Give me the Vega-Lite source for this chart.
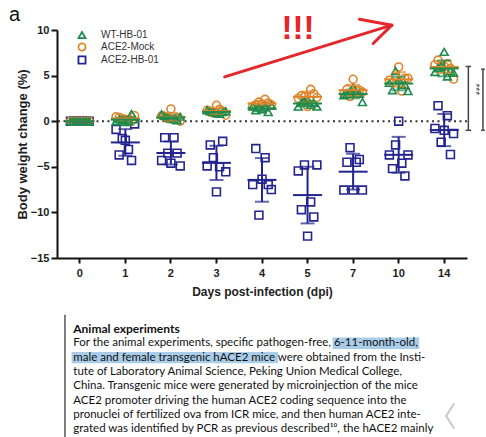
{
"$schema":"https://vega.github.io/schema/vega-lite/v6.json",
"width":410,"height":228,
"autosize":{"type":"none"},
"padding":{"left":57,"top":30,"right":19,"bottom":179},
"background":"white",
"config":{"view":{"stroke":null},"font":"Liberation Sans"},
"datasets":{
"mice":[
{"day":0,"group":"ACE2-HB-01","mouse":1,"value":0},{"day":0,"group":"ACE2-HB-01","mouse":2,"value":0},{"day":0,"group":"ACE2-HB-01","mouse":3,"value":0},{"day":0,"group":"ACE2-HB-01","mouse":4,"value":0},{"day":0,"group":"ACE2-HB-01","mouse":5,"value":0},{"day":0,"group":"ACE2-HB-01","mouse":6,"value":0},{"day":0,"group":"ACE2-HB-01","mouse":7,"value":0},
{"day":1,"group":"ACE2-HB-01","mouse":1,"value":-0.9},{"day":1,"group":"ACE2-HB-01","mouse":2,"value":-3.7},{"day":1,"group":"ACE2-HB-01","mouse":3,"value":-1.9},{"day":1,"group":"ACE2-HB-01","mouse":4,"value":-2.1},{"day":1,"group":"ACE2-HB-01","mouse":5,"value":-3.1},{"day":1,"group":"ACE2-HB-01","mouse":6,"value":-4.3},{"day":1,"group":"ACE2-HB-01","mouse":7,"value":-0.3},
{"day":2,"group":"ACE2-HB-01","mouse":1,"value":-4.3},{"day":2,"group":"ACE2-HB-01","mouse":2,"value":-1.8},{"day":2,"group":"ACE2-HB-01","mouse":3,"value":-3.5},{"day":2,"group":"ACE2-HB-01","mouse":4,"value":-4.6},{"day":2,"group":"ACE2-HB-01","mouse":5,"value":-1.8},{"day":2,"group":"ACE2-HB-01","mouse":6,"value":-3.5},{"day":2,"group":"ACE2-HB-01","mouse":7,"value":-4.9},
{"day":3,"group":"ACE2-HB-01","mouse":1,"value":-4.9},{"day":3,"group":"ACE2-HB-01","mouse":2,"value":-2.6},{"day":3,"group":"ACE2-HB-01","mouse":3,"value":-4.0},{"day":3,"group":"ACE2-HB-01","mouse":4,"value":-7.75},{"day":3,"group":"ACE2-HB-01","mouse":5,"value":-5.0},{"day":3,"group":"ACE2-HB-01","mouse":6,"value":-2.2},{"day":3,"group":"ACE2-HB-01","mouse":7,"value":-5.55},
{"day":4,"group":"ACE2-HB-01","mouse":1,"value":-6.95},{"day":4,"group":"ACE2-HB-01","mouse":2,"value":-3.0},{"day":4,"group":"ACE2-HB-01","mouse":3,"value":-10.3},{"day":4,"group":"ACE2-HB-01","mouse":4,"value":-6.36},{"day":4,"group":"ACE2-HB-01","mouse":5,"value":-4.0},{"day":4,"group":"ACE2-HB-01","mouse":6,"value":-6.95},{"day":4,"group":"ACE2-HB-01","mouse":7,"value":-7.5},
{"day":5,"group":"ACE2-HB-01","mouse":1,"value":-5.45},{"day":5,"group":"ACE2-HB-01","mouse":2,"value":-9.7},{"day":5,"group":"ACE2-HB-01","mouse":3,"value":-4.8},{"day":5,"group":"ACE2-HB-01","mouse":4,"value":-12.6},{"day":5,"group":"ACE2-HB-01","mouse":5,"value":-8.85},{"day":5,"group":"ACE2-HB-01","mouse":6,"value":-10.5},{"day":5,"group":"ACE2-HB-01","mouse":7,"value":-4.8},
{"day":7,"group":"ACE2-HB-01","mouse":1,"value":-7.55},{"day":7,"group":"ACE2-HB-01","mouse":2,"value":-4.5},{"day":7,"group":"ACE2-HB-01","mouse":3,"value":-2.9},{"day":7,"group":"ACE2-HB-01","mouse":4,"value":-7.55},{"day":7,"group":"ACE2-HB-01","mouse":5,"value":-4.5},{"day":7,"group":"ACE2-HB-01","mouse":6,"value":-4.2},{"day":7,"group":"ACE2-HB-01","mouse":7,"value":-7.55},
{"day":10,"group":"ACE2-HB-01","mouse":1,"value":-3.7},{"day":10,"group":"ACE2-HB-01","mouse":2,"value":-5.2},{"day":10,"group":"ACE2-HB-01","mouse":3,"value":-2.6},{"day":10,"group":"ACE2-HB-01","mouse":4,"value":0.0},{"day":10,"group":"ACE2-HB-01","mouse":5,"value":-4.6},{"day":10,"group":"ACE2-HB-01","mouse":6,"value":-6.0},{"day":10,"group":"ACE2-HB-01","mouse":7,"value":-3.7},
{"day":14,"group":"ACE2-HB-01","mouse":1,"value":-0.8},{"day":14,"group":"ACE2-HB-01","mouse":2,"value":1.7},{"day":14,"group":"ACE2-HB-01","mouse":3,"value":-2.3},{"day":14,"group":"ACE2-HB-01","mouse":4,"value":-1.0},{"day":14,"group":"ACE2-HB-01","mouse":5,"value":0.6},{"day":14,"group":"ACE2-HB-01","mouse":6,"value":-3.65},{"day":14,"group":"ACE2-HB-01","mouse":7,"value":-1.35},
{"day":0,"group":"ACE2-Mock","mouse":1,"value":0},{"day":0,"group":"ACE2-Mock","mouse":2,"value":0},{"day":0,"group":"ACE2-Mock","mouse":3,"value":0},{"day":0,"group":"ACE2-Mock","mouse":4,"value":0},{"day":0,"group":"ACE2-Mock","mouse":5,"value":0},{"day":0,"group":"ACE2-Mock","mouse":6,"value":0},{"day":0,"group":"ACE2-Mock","mouse":7,"value":0},
{"day":1,"group":"ACE2-Mock","mouse":1,"value":0.5},{"day":1,"group":"ACE2-Mock","mouse":2,"value":0.4},{"day":1,"group":"ACE2-Mock","mouse":3,"value":0.3},{"day":1,"group":"ACE2-Mock","mouse":4,"value":0.2},{"day":1,"group":"ACE2-Mock","mouse":5,"value":0.1},{"day":1,"group":"ACE2-Mock","mouse":6,"value":0.0},{"day":1,"group":"ACE2-Mock","mouse":7,"value":0.6},
{"day":2,"group":"ACE2-Mock","mouse":1,"value":0.6},{"day":2,"group":"ACE2-Mock","mouse":2,"value":0.5},{"day":2,"group":"ACE2-Mock","mouse":3,"value":0.3},{"day":2,"group":"ACE2-Mock","mouse":4,"value":1.35},{"day":2,"group":"ACE2-Mock","mouse":5,"value":0.2},{"day":2,"group":"ACE2-Mock","mouse":6,"value":0.4},{"day":2,"group":"ACE2-Mock","mouse":7,"value":0.0},
{"day":3,"group":"ACE2-Mock","mouse":1,"value":1.2},{"day":3,"group":"ACE2-Mock","mouse":2,"value":1.0},{"day":3,"group":"ACE2-Mock","mouse":3,"value":0.9},{"day":3,"group":"ACE2-Mock","mouse":4,"value":1.75},{"day":3,"group":"ACE2-Mock","mouse":5,"value":1.3},{"day":3,"group":"ACE2-Mock","mouse":6,"value":1.1},{"day":3,"group":"ACE2-Mock","mouse":7,"value":0.65},
{"day":4,"group":"ACE2-Mock","mouse":1,"value":1.6},{"day":4,"group":"ACE2-Mock","mouse":2,"value":1.8},{"day":4,"group":"ACE2-Mock","mouse":3,"value":2.1},{"day":4,"group":"ACE2-Mock","mouse":4,"value":1.9},{"day":4,"group":"ACE2-Mock","mouse":5,"value":2.4},{"day":4,"group":"ACE2-Mock","mouse":6,"value":2.0},{"day":4,"group":"ACE2-Mock","mouse":7,"value":1.8},
{"day":5,"group":"ACE2-Mock","mouse":1,"value":2.5},{"day":5,"group":"ACE2-Mock","mouse":2,"value":2.8},{"day":5,"group":"ACE2-Mock","mouse":3,"value":2.7},{"day":5,"group":"ACE2-Mock","mouse":4,"value":1.6},{"day":5,"group":"ACE2-Mock","mouse":5,"value":3.5},{"day":5,"group":"ACE2-Mock","mouse":6,"value":3.0},{"day":5,"group":"ACE2-Mock","mouse":7,"value":2.6},
{"day":7,"group":"ACE2-Mock","mouse":1,"value":3.0},{"day":7,"group":"ACE2-Mock","mouse":2,"value":3.5},{"day":7,"group":"ACE2-Mock","mouse":3,"value":2.7},{"day":7,"group":"ACE2-Mock","mouse":4,"value":4.6},{"day":7,"group":"ACE2-Mock","mouse":5,"value":3.4},{"day":7,"group":"ACE2-Mock","mouse":6,"value":3.4},{"day":7,"group":"ACE2-Mock","mouse":7,"value":3.2},
{"day":10,"group":"ACE2-Mock","mouse":1,"value":4.5},{"day":10,"group":"ACE2-Mock","mouse":2,"value":4.2},{"day":10,"group":"ACE2-Mock","mouse":3,"value":4.8},{"day":10,"group":"ACE2-Mock","mouse":4,"value":5.95},{"day":10,"group":"ACE2-Mock","mouse":5,"value":3.3},{"day":10,"group":"ACE2-Mock","mouse":6,"value":4.7},{"day":10,"group":"ACE2-Mock","mouse":7,"value":4.7},
{"day":14,"group":"ACE2-Mock","mouse":1,"value":6.2},{"day":14,"group":"ACE2-Mock","mouse":2,"value":6.7},{"day":14,"group":"ACE2-Mock","mouse":3,"value":6.0},{"day":14,"group":"ACE2-Mock","mouse":4,"value":6.0},{"day":14,"group":"ACE2-Mock","mouse":5,"value":6.3},{"day":14,"group":"ACE2-Mock","mouse":6,"value":5.8},{"day":14,"group":"ACE2-Mock","mouse":7,"value":4.6},
{"day":0,"group":"WT-HB-01","mouse":1,"value":0},{"day":0,"group":"WT-HB-01","mouse":2,"value":0},{"day":0,"group":"WT-HB-01","mouse":3,"value":0},{"day":0,"group":"WT-HB-01","mouse":4,"value":0},{"day":0,"group":"WT-HB-01","mouse":5,"value":0},{"day":0,"group":"WT-HB-01","mouse":6,"value":0},{"day":0,"group":"WT-HB-01","mouse":7,"value":0},
{"day":1,"group":"WT-HB-01","mouse":1,"value":0.0},{"day":1,"group":"WT-HB-01","mouse":2,"value":0.2},{"day":1,"group":"WT-HB-01","mouse":3,"value":0.1},{"day":1,"group":"WT-HB-01","mouse":4,"value":-0.1},{"day":1,"group":"WT-HB-01","mouse":5,"value":0.0},{"day":1,"group":"WT-HB-01","mouse":6,"value":0.8},{"day":1,"group":"WT-HB-01","mouse":7,"value":0.2},
{"day":2,"group":"WT-HB-01","mouse":1,"value":0.75},{"day":2,"group":"WT-HB-01","mouse":2,"value":0.6},{"day":2,"group":"WT-HB-01","mouse":3,"value":0.4},{"day":2,"group":"WT-HB-01","mouse":4,"value":0.3},{"day":2,"group":"WT-HB-01","mouse":5,"value":0.2},{"day":2,"group":"WT-HB-01","mouse":6,"value":0.1},{"day":2,"group":"WT-HB-01","mouse":7,"value":0.5},
{"day":3,"group":"WT-HB-01","mouse":1,"value":1.2},{"day":3,"group":"WT-HB-01","mouse":2,"value":1.1},{"day":3,"group":"WT-HB-01","mouse":3,"value":1.0},{"day":3,"group":"WT-HB-01","mouse":4,"value":0.9},{"day":3,"group":"WT-HB-01","mouse":5,"value":0.8},{"day":3,"group":"WT-HB-01","mouse":6,"value":1.0},{"day":3,"group":"WT-HB-01","mouse":7,"value":1.1},
{"day":4,"group":"WT-HB-01","mouse":1,"value":1.6},{"day":4,"group":"WT-HB-01","mouse":2,"value":1.2},{"day":4,"group":"WT-HB-01","mouse":3,"value":1.5},{"day":4,"group":"WT-HB-01","mouse":4,"value":1.3},{"day":4,"group":"WT-HB-01","mouse":5,"value":1.6},{"day":4,"group":"WT-HB-01","mouse":6,"value":1.0},{"day":4,"group":"WT-HB-01","mouse":7,"value":1.7},
{"day":5,"group":"WT-HB-01","mouse":1,"value":1.6},{"day":5,"group":"WT-HB-01","mouse":2,"value":2.0},{"day":5,"group":"WT-HB-01","mouse":3,"value":2.2},{"day":5,"group":"WT-HB-01","mouse":4,"value":2.4},{"day":5,"group":"WT-HB-01","mouse":5,"value":1.8},{"day":5,"group":"WT-HB-01","mouse":6,"value":2.0},{"day":5,"group":"WT-HB-01","mouse":7,"value":1.6},
{"day":7,"group":"WT-HB-01","mouse":1,"value":2.85},{"day":7,"group":"WT-HB-01","mouse":2,"value":3.0},{"day":7,"group":"WT-HB-01","mouse":3,"value":3.2},{"day":7,"group":"WT-HB-01","mouse":4,"value":3.7},{"day":7,"group":"WT-HB-01","mouse":5,"value":3.1},{"day":7,"group":"WT-HB-01","mouse":6,"value":3.0},{"day":7,"group":"WT-HB-01","mouse":7,"value":2.1},
{"day":10,"group":"WT-HB-01","mouse":1,"value":4.2},{"day":10,"group":"WT-HB-01","mouse":2,"value":3.4},{"day":10,"group":"WT-HB-01","mouse":3,"value":5.5},{"day":10,"group":"WT-HB-01","mouse":4,"value":4.5},{"day":10,"group":"WT-HB-01","mouse":5,"value":4.0},{"day":10,"group":"WT-HB-01","mouse":6,"value":4.0},{"day":10,"group":"WT-HB-01","mouse":7,"value":3.3},
{"day":14,"group":"WT-HB-01","mouse":1,"value":5.4},{"day":14,"group":"WT-HB-01","mouse":2,"value":5.8},{"day":14,"group":"WT-HB-01","mouse":3,"value":6.0},{"day":14,"group":"WT-HB-01","mouse":4,"value":7.6},{"day":14,"group":"WT-HB-01","mouse":5,"value":4.9},{"day":14,"group":"WT-HB-01","mouse":6,"value":5.5},{"day":14,"group":"WT-HB-01","mouse":7,"value":5.3}
],
"arrow":[
{"u1":3.68,"v1":4.86,"u2":7.35,"v2":10.53},
{"u1":7.35,"v1":10.53,"u2":6.64,"v2":11.18},
{"u1":7.35,"v1":10.53,"u2":6.94,"v2":8.52}
],
"bracket":[
{"u1":9.03,"v1":6.0,"u2":9.03,"v2":-1.0},
{"u1":8.97,"v1":6.0,"u2":9.09,"v2":6.0},
{"u1":8.97,"v1":-1.0,"u2":9.09,"v2":-1.0},
{"u1":9.35,"v1":5.7,"u2":9.35,"v2":-1.0},
{"u1":9.31,"v1":5.7,"u2":9.39,"v2":5.7},
{"u1":9.31,"v1":-1.0,"u2":9.39,"v2":-1.0}
],
"lines":[
{"line":0,"u":0.357,"kind":"head","text":"Animal experiments"},
{"line":1,"u":0.357,"kind":"body","text":"For the animal experiments, specific pathogen-free, 6-11-month-old,"},
{"line":2,"u":0.357,"kind":"body","text":"male and female transgenic hACE2 mice were obtained from the Insti-"},
{"line":3,"u":0.357,"kind":"body","text":"tute of Laboratory Animal Science, Peking Union Medical College,"},
{"line":4,"u":0.357,"kind":"body","text":"China. Transgenic mice were generated by microinjection of the mice"},
{"line":5,"u":0.357,"kind":"body","text":"ACE2 promoter driving the human ACE2 coding sequence into the"},
{"line":6,"u":0.357,"kind":"body","text":"pronuclei of fertilized ova from ICR mice, and then human ACE2 inte-"},
{"line":7,"u":0.357,"kind":"body","text":"grated was identified by PCR as previous described¹⁰, the hACE2 mainly"}
],
"highlight":[
{"line":1,"h0":6.05,"h1":7.95},
{"line":2,"h0":0.32,"h1":4.85}
]
},
"layer":[
{
"layer":[
{"data":{"values":[{"zero":0}]},"mark":{"type":"rule","strokeDash":[2,3.5],"strokeWidth":2,"color":"#333333"},
 "encoding":{"y":{"field":"zero","type":"quantitative","scale":{"domain":[-15,10],"nice":false,"zero":false},"axis":null}}},
{"data":{"name":"arrow"},"mark":{"type":"rule","color":"#E5262B","strokeWidth":3,"strokeCap":"round"},
 "encoding":{"x":{"field":"u1","type":"quantitative","scale":{"domain":[0,9],"nice":false,"zero":false},"axis":null},"x2":{"field":"u2"},
 "y":{"field":"v1","type":"quantitative","scale":{"domain":[-15,10],"nice":false,"zero":false},"axis":null},"y2":{"field":"v2"}}},
{"data":{"name":"bracket"},"mark":{"type":"rule","color":"#444444","strokeWidth":1.5},
 "encoding":{"x":{"field":"u1","type":"quantitative","scale":{"domain":[0,9],"nice":false,"zero":false},"axis":null},"x2":{"field":"u2"},
 "y":{"field":"v1","type":"quantitative","scale":{"domain":[-15,10],"nice":false,"zero":false},"axis":null},"y2":{"field":"v2"}}},
{"data":{"values":[{"label":"a","u":-0.93,"v":11.0}]},"mark":{"type":"text","fontSize":20,"font":"Liberation Sans","align":"center","baseline":"alphabetic","color":"#111111"},
 "encoding":{"x":{"field":"u","type":"quantitative","scale":{"domain":[0,9],"nice":false,"zero":false},"axis":null},"y":{"field":"v","type":"quantitative","scale":{"domain":[-15,10],"nice":false,"zero":false},"axis":null},"text":{"field":"label"}}},
{"data":{"values":[{"label":"!!!","u":5.29,"v":8.99}]},"mark":{"type":"text","fontSize":33,"fontWeight":"bold","font":"Liberation Sans","align":"center","baseline":"alphabetic","color":"#E5262B"},
 "encoding":{"x":{"field":"u","type":"quantitative","scale":{"domain":[0,9],"nice":false,"zero":false},"axis":null},"y":{"field":"v","type":"quantitative","scale":{"domain":[-15,10],"nice":false,"zero":false},"axis":null},"text":{"field":"label"}}},
{"data":{"values":[{"label":"***","u":9.17,"v":3.5}]},"mark":{"type":"text","fontSize":10,"font":"Liberation Sans","align":"center","baseline":"middle","angle":90,"color":"#444444"},
 "encoding":{"x":{"field":"u","type":"quantitative","scale":{"domain":[0,9],"nice":false,"zero":false},"axis":null},"y":{"field":"v","type":"quantitative","scale":{"domain":[-15,10],"nice":false,"zero":false},"axis":null},"text":{"field":"label"}}}
]
},
{
"data":{"name":"mice"},
"encoding":{
 "x":{"field":"day","type":"ordinal","scale":{"type":"band","paddingInner":0,"paddingOuter":0},
  "axis":{"orient":"bottom","title":"Days post-infection (dpi)","labelAngle":0,"domainWidth":2,"domainColor":"#111111","tickColor":"#111111","tickWidth":2,"tickSize":5,"bandPosition":0.5,"labelFont":"Liberation Sans","labelFontWeight":"bold","labelFontSize":11,"labelColor":"#222222","labelPadding":4,"titleFont":"Liberation Sans","titleFontSize":12,"titleFontWeight":"bold","titleColor":"#222222","titlePadding":8,"grid":false}},
 "y":{"field":"value","type":"quantitative","scale":{"domain":[-15,10],"nice":false,"zero":false},
  "axis":{"orient":"left","title":"Body weight change (%)","values":[-15,-10,-5,0,5,10],"grid":false,"domainWidth":2,"domainColor":"#111111","tickColor":"#111111","tickWidth":2,"tickSize":6,"labelFont":"Liberation Sans","labelFontWeight":"bold","labelFontSize":11,"labelColor":"#222222","labelPadding":2,"titleFont":"Liberation Sans","titleFontSize":13,"titleFontWeight":"bold","titleColor":"#222222","titlePadding":1}}
},
"layer":[
{"mark":{"type":"point","filled":false,"size":62,"strokeWidth":1.6,"opacity":1},
 "encoding":{"xOffset":{"field":"mouse","type":"nominal","scale":{"range":[13.5,32.1],"paddingInner":0,"paddingOuter":0}},
 "color":{"field":"group","type":"nominal","scale":{"domain":["WT-HB-01","ACE2-Mock","ACE2-HB-01"],"range":["#1F8B4C","#E0842A","#23248F"]},
  "legend":{"title":null,"orient":"none","legendX":20,"legendY":0,"symbolSize":50,"symbolStrokeWidth":1.8,"symbolFillColor":"white","labelFont":"Liberation Sans","labelFontSize":10,"labelColor":"#333333","rowPadding":-3,"labelOffset":14}},
 "shape":{"field":"group","type":"nominal","scale":{"domain":["WT-HB-01","ACE2-Mock","ACE2-HB-01"],"range":["triangle-up","circle","square"]},
  "legend":{"title":null,"orient":"none","legendX":20,"legendY":0,"symbolSize":50,"symbolStrokeWidth":1.8,"symbolFillColor":"white","labelFont":"Liberation Sans","labelFontSize":10,"labelColor":"#333333","rowPadding":-3,"labelOffset":14}}}},
{"mark":{"type":"errorbar","extent":"stdev","ticks":true,"size":14,"thickness":2},
 "encoding":{"color":{"field":"group","type":"nominal","legend":null}}},
{"mark":{"type":"tick","orient":"horizontal","size":29,"thickness":2},
 "encoding":{"y":{"aggregate":"mean","field":"value","type":"quantitative"},"color":{"field":"group","type":"nominal","legend":null}}}
],
"resolve":{"legend":{"color":"independent","shape":"independent"}}
},
{
"layer":[
{"data":{"name":"highlight"},"mark":{"type":"rect","color":"#A9CDE9"},
 "encoding":{"x":{"field":"h0","type":"quantitative","scale":{"domain":[0,9],"nice":false,"zero":false},"axis":null},"x2":{"field":"h1"},
 "y":{"field":"line","type":"ordinal","scale":{"type":"band","domain":[-1,0,1,2,3,4,5,6,7,8],"range":[277.55,420.55],"paddingInner":0.2,"paddingOuter":0.1},"axis":null}}},
{"data":{"values":[{"line":-1,"line2":8,"u":0.175}]},"mark":{"type":"rule","color":"#555555","strokeWidth":1.5},
 "encoding":{"x":{"field":"u","type":"quantitative","scale":{"domain":[0,9],"nice":false,"zero":false},"axis":null},
 "y":{"field":"line","type":"ordinal","axis":null},"y2":{"field":"line2"}}},
{"data":{"name":"lines"},"transform":[{"filter":"datum.kind == 'head'"}],"mark":{"type":"text","align":"left","baseline":"middle","font":"Lato","fontSize":12,"fontWeight":"bold","color":"#111111"},
 "encoding":{"x":{"field":"u","type":"quantitative","scale":{"domain":[0,9],"nice":false,"zero":false},"axis":null},"y":{"field":"line","type":"ordinal","axis":null},"text":{"field":"text"}}},
{"data":{"name":"lines"},"transform":[{"filter":"datum.kind == 'body'"}],"mark":{"type":"text","align":"left","baseline":"middle","font":"Lato","fontSize":11.5,"color":"#111111"},
 "encoding":{"x":{"field":"u","type":"quantitative","scale":{"domain":[0,9],"nice":false,"zero":false},"axis":null},"y":{"field":"line","type":"ordinal","axis":null},"text":{"field":"text"}}},
{"data":{"values":[{"line":6,"u":8.46,"label":"〈"}]},"mark":{"type":"text","align":"center","baseline":"middle","font":"Noto Sans CJK SC","fontSize":28,"dy":4,"color":"#C8C8C8"},
 "encoding":{"x":{"field":"u","type":"quantitative","scale":{"domain":[0,9],"nice":false,"zero":false},"axis":null},"y":{"field":"line","type":"ordinal","axis":null},"text":{"field":"label"}}}
]
}
],
"resolve":{"scale":{"x":"independent","y":"independent"}}
}
